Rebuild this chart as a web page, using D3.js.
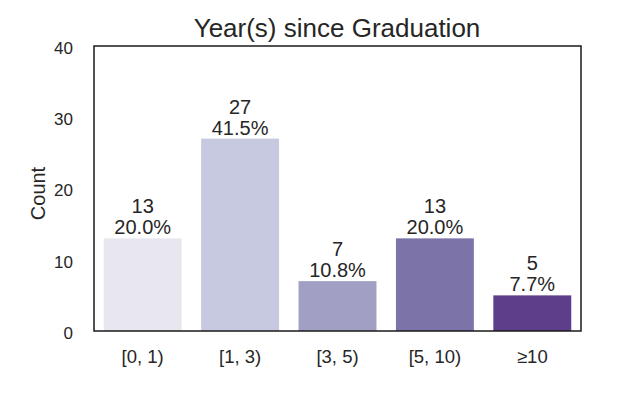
<!DOCTYPE html>
<html><head><meta charset="utf-8">
<script src="https://cdn.jsdelivr.net/npm/d3@7"></script>
<style>body{margin:0;background:#fff}svg{display:block}text{font-family:"Liberation Sans",Arial,sans-serif;fill:#262626}</style>
</head><body>
<svg id="c" width="624" height="399"></svg>
<script>
const categories = ["[0, 1)", "[1, 3)", "[3, 5)", "[5, 10)", "\u226510"];
const counts = [13, 27, 7, 13, 5];
const percents = ["20.0%", "41.5%", "10.8%", "20.0%", "7.7%"];
const colors = ["#e8e7f0", "#c7c9e0", "#a19fc4", "#7c74a8", "#5e3e8a"];
const yTicks = [0, 10, 20, 30, 40];
const title = "Year(s) since Graduation";
const yLabel = "Count";

const svg = d3.select("#c");
const m = {left: 94, right: 581, top: 46, bottom: 331};
const x = d3.scaleBand().domain(categories).range([m.left, m.right]).paddingInner(0.2).paddingOuter(0.1);
const y = d3.scaleLinear().domain([0, 40]).range([m.bottom, m.top]);

svg.selectAll("rect.bar").data(categories).join("rect").attr("class","bar")
  .attr("x", d => x(d)).attr("width", x.bandwidth())
  .attr("y", (d,i) => y(counts[i])).attr("height", (d,i) => y(0) - y(counts[i]))
  .attr("fill", (d,i) => colors[i]);

const lab = svg.append("g");
categories.forEach((d,i) => {
  const cx = x(d) + x.bandwidth()/2;
  lab.append("text").attr("x", cx).attr("y", y(counts[i]) - 25).attr("text-anchor","middle").attr("font-size",20).text(counts[i]);
  lab.append("text").attr("x", cx).attr("y", y(counts[i]) - 4).attr("text-anchor","middle").attr("font-size",20).text(percents[i]);
});

svg.append("rect").attr("x", m.left).attr("y", m.top).attr("width", m.right - m.left).attr("height", m.bottom - m.top)
  .attr("fill","none").attr("stroke","#1a1a1a").attr("stroke-width",1.5);

const ya = svg.append("g").attr("transform", `translate(${m.left},2)`)
  .call(d3.axisLeft(y).tickValues(yTicks).tickSize(0).tickPadding(21));
ya.select(".domain").remove();
ya.selectAll("text").attr("font-size",17).style("font-family","Liberation Sans, Arial, sans-serif").attr("fill","#262626");

const xa = svg.append("g").attr("transform", `translate(0,${m.bottom})`)
  .call(d3.axisBottom(x).tickSize(0).tickPadding(19));
xa.select(".domain").remove();
xa.selectAll("text").attr("font-size",18.5).style("font-family","Liberation Sans, Arial, sans-serif").attr("fill","#262626");

svg.append("text").attr("x", 337).attr("y", 37).attr("text-anchor","middle").attr("font-size",26).text(title);
svg.append("text").attr("transform", `translate(45,193.5) rotate(-90)`).attr("text-anchor","middle").attr("font-size",20).text(yLabel);
</script>
</body></html>
